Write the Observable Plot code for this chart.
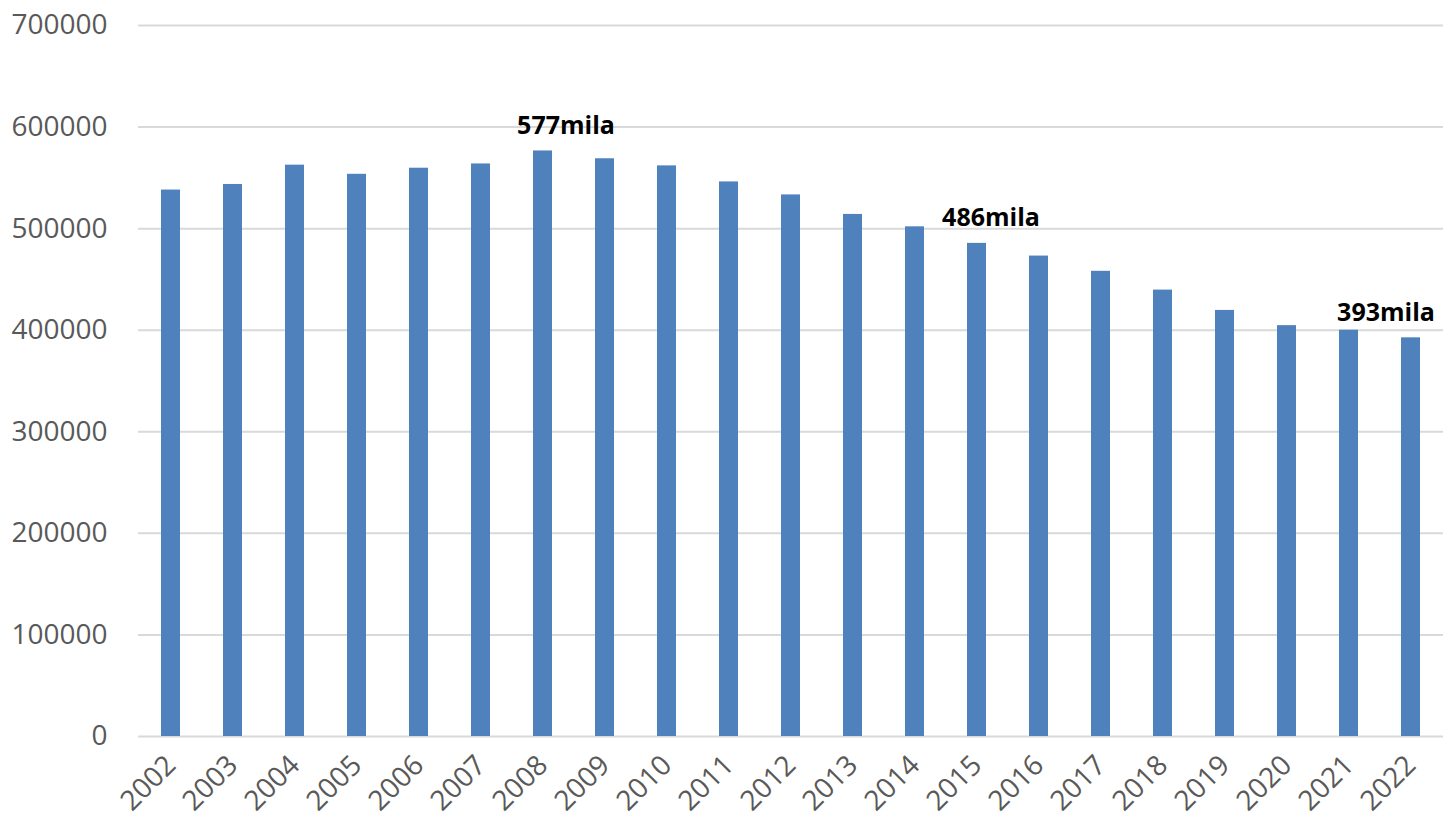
<!DOCTYPE html>
<html>
<head>
<meta charset="utf-8">
<script src="https://cdn.jsdelivr.net/npm/d3@7"></script>
<script src="https://cdn.jsdelivr.net/npm/@observablehq/plot@0.6"></script>
<style>
  html, body { margin: 0; padding: 0; background: #fff; }
  #chart svg { display: block; }
</style>
</head>
<body>
<div id="chart"></div>
<script>
const years = ["2002","2003","2004","2005","2006","2007","2008","2009","2010","2011","2012","2013","2014","2015","2016","2017","2018","2019","2020","2021","2022"];
const values = [538000, 543500, 562500, 553500, 559500, 563700, 576500, 568800, 561800, 546000, 533200, 514000, 501800, 485500, 473000, 458000, 439500, 419500, 404500, 400000, 392500];
const yTicks = [0, 100000, 200000, 300000, 400000, 500000, 600000, 700000];
const labelYears = ["2008", "2015", "2022"];
const labelTexts = ["577mila", "486mila", "393mila"];
const labelDx = [23, 14, -25];

const data = years.map((y, i) => ({year: y, value: values[i]}));
const labels = labelYears.map((y, i) => ({year: y, value: values[years.indexOf(y)], text: labelTexts[i], dx: labelDx[i]}));

const chart = Plot.plot({
  width: 1449,
  height: 823,
  marginLeft: 138,
  marginRight: 6,
  marginTop: 25,
  marginBottom: 87,
  style: {fontFamily: "'Open Sans', sans-serif", background: "#fff"},
  x: {domain: years, paddingInner: 0.7, paddingOuter: 0.35, label: null, tickSize: 0, tickPadding: 24, tickRotate: -45},
  y: {domain: [0, 700000], ticks: yTicks, label: null, tickSize: 0, tickPadding: 31, tickFormat: d => String(d)},
  marks: [
    Plot.ruleY(yTicks, {stroke: "#d9d9d9", strokeWidth: 2}),
    Plot.barY(data, {x: "year", y: "value", fill: "#4F81BD"}),
    ...labels.map(l => Plot.text([l], {x: "year", y: "value", text: "text", dx: l.dx, dy: -17, lineAnchor: "bottom", fontSize: 25, fontWeight: "bold", fill: "#000"}))
  ]
});

d3.select(chart).selectAll("[aria-label='y-axis tick label'], [aria-label='x-axis tick label']")
  .attr("font-size", 28).attr("fill", "#595959");

document.getElementById("chart").appendChild(chart);
</script>
</body>
</html>
